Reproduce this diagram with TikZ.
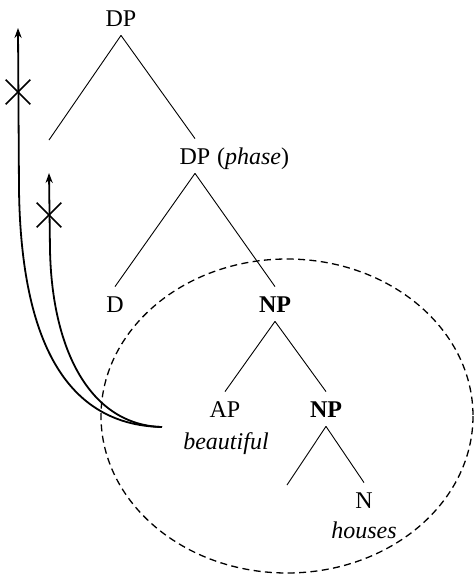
\documentclass[tikz,border=0pt]{standalone}
\usepackage{fontspec}
\setmainfont{Liberation Serif}
\usetikzlibrary{arrows.meta,shapes.misc}

\tikzset{
  cat/.style={inner xsep=1pt, inner ysep=4.5pt, text height=8pt, text depth=0pt,
    anchor=base, font=\fontsize{12}{14}\selectfont},
  word/.style={inner sep=0pt, anchor=base, font=\fontsize{12}{14}\selectfont\itshape},
  branch/.style={line width=0.45pt},
  move/.style={line width=0.9pt, -{Stealth[length=5pt,width=3.6pt]}},
  blocked/.style={cross out, draw, line width=0.8pt, minimum size=11.5pt, inner sep=0pt},
  phasebound/.style={line width=0.65pt, dash pattern=on 3.5pt off 2.2pt}
}

\begin{document}
\begin{tikzpicture}[x=0.5pt, y=-0.5pt]
    \useasboundingbox (0,0) rectangle (474,578);

    % Nodi dell'albero
    \node[cat] (dp) at (121,26) {DP};
    \node[cat] (dp2) at (195,164) {DP};
    \node[cat, anchor=base west, inner xsep=0pt] (phase) at ([xshift=2pt]dp2.base east)
        {(\textit{phase})};
    \node[cat] (d) at (115,312) {D};
    \node[cat] (np1) at (275,312) {\textbf{NP}};
    \node[cat] (ap) at (225,417) {AP};
    \node[cat] (np2) at (326,417) {\textbf{NP}};
    \node[cat] (n) at (364,508) {N};

    % Parole
    \node[word] (beautiful) at (226,449) {beautiful};
    \node[word] (houses) at (364,538) {houses};

    % Rami vuoti
    \coordinate (e1) at (49,140);
    \coordinate (e2) at (287,485);

    % Rami
    \draw[branch] (dp.south) -- (e1);
    \draw[branch] (dp.south) -- (dp2.north);
    \draw[branch] (dp2.south) -- (d.north);
    \draw[branch] (dp2.south) -- (np1.north);
    \draw[branch] (np1.south) -- (ap.north);
    \draw[branch] (np1.south) -- (np2.north);
    \draw[branch] (np2.south) -- (e2);
    \draw[branch] (np2.south) -- (n.north);

    % Fase (ellisse tratteggiata)
    \draw[phasebound] (287,416) ellipse [x radius=186, y radius=157];

    % Movimenti bloccati
    \coordinate (src) at (162,427);
    \coordinate (top1) at (18,28);
    \coordinate (top2) at (49,173);
    \draw[move] (src) .. controls (60,425) and (21,330) .. (19,190) -- (top1);
    \draw[move] (src) .. controls (90,425) and (52,350) .. (50,250) -- (top2);
    \node[blocked] (x1) at (18,92) {};
    \node[blocked] (x2) at (49,215) {};
\end{tikzpicture}
\end{document}
